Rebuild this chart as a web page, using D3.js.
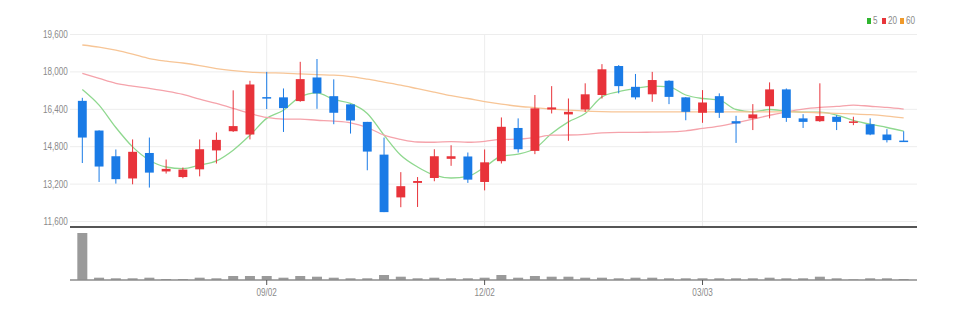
<!DOCTYPE html>
<html>
<head>
<meta charset="utf-8">
<script src="https://cdn.jsdelivr.net/npm/d3@7"></script>
<style>
  body { margin: 0; background: #fff; }
  svg text { font-family: "Liberation Sans", sans-serif; fill: #8a8a8a; }
</style>
</head>
<body>
<svg id="chart" width="961" height="315"></svg>
<script>
// weekly candles
let dates = ["06/17","06/24","07/01","07/08","07/15","07/22","07/29","08/05","08/12","08/19",
  "08/26","09/02","09/09","09/16","09/23","09/30","10/07","10/14","10/21","10/28",
  "11/04","11/11","11/18","11/25","12/02","12/09","12/16","12/23","12/30","01/06",
  "01/13","01/20","01/27","02/03","02/10","02/17","02/24","03/03","03/10","03/17",
  "03/24","03/31","04/07","04/14","04/21","04/28","05/05","05/12","05/19","05/26"];

let open  = [16740,15470,14370,13420,14510,13720,13480,13810,14620,15440,
  15300,16900,16890,16730,17740,16940,16590,15840,14440,12610,
  13230,13440,14260,14360,13270,14160,15580,14600,16370,16160,
  16370,16990,18230,17340,17020,17600,16890,16230,16940,15870,
  15990,16510,17230,15990,15870,16060,15820,15740,15300,15040];
let close = [15170,13930,13390,14560,13670,13830,13800,14670,15070,15660,
  17440,16840,16430,17670,17060,16230,15900,14570,11980,13090,
  13310,14370,14370,13370,14110,15630,14670,16420,16460,16270,
  17020,18090,17370,16890,17630,16910,16270,16670,16230,15770,
  16160,17230,16010,15840,16090,15840,15860,15300,15060,15020];
let high  = [16870,15480,14660,15090,15170,14230,13890,15090,15390,17190,
  17600,17980,17270,18410,18530,17660,16600,15840,15170,13690,
  13480,14670,14840,14530,14660,16030,15990,16990,17370,16840,
  17490,18310,18270,17890,17980,17620,16900,17200,17060,16100,
  16600,17530,17270,16170,17490,16130,16060,15990,15530,15440];
let low   = [14080,13270,13200,13170,13030,13630,13430,13510,14060,15410,
  15090,16390,15410,16700,16400,15740,15340,13770,11980,12190,
  12200,13300,13960,13230,12910,14060,14530,14460,16200,15030,
  16270,16840,17060,16800,16700,16600,15910,15800,16010,14940,
  15490,15990,15840,15580,15840,15490,15700,15270,14960,15000];

let ma5  = [17230,16560,15600,14770,14200,13910,13840,13990,14170,14630,
  15270,15990,16340,16910,17080,16800,16630,16200,15270,14410,
  13910,13560,13440,13510,13910,14370,14460,14700,15340,15840,
  16200,16910,17130,17270,17370,17340,16990,16840,16770,16370,
  16270,16370,16300,16260,16260,16130,15910,15740,15600,15440];
let ma20 = [17920,17700,17490,17370,17270,17160,17020,16810,16630,16420,
  16200,16030,15960,15960,15910,15870,15800,15600,15270,15090,
  14980,14970,15000,14970,15010,15090,15100,15170,15270,15280,
  15310,15370,15390,15390,15400,15410,15460,15560,15660,15800,
  15960,16120,16270,16390,16460,16500,16560,16510,16460,16390];
let ma60 = [19130,19040,18910,18740,18550,18440,18360,18250,18120,18030,
  17970,17940,17930,17890,17860,17840,17780,17670,17540,17410,
  17260,17110,16960,16840,16710,16600,16510,16450,16390,16340,
  16300,16280,16270,16270,16270,16270,16270,16270,16270,16270,
  16270,16270,16270,16260,16230,16200,16180,16150,16090,16010];

let volume = [4700,230,170,170,230,100,100,230,170,400,
  400,400,230,400,330,230,170,170,500,330,
  170,230,170,170,230,500,230,400,330,330,
  230,230,170,230,230,170,170,170,170,170,
  170,230,170,170,330,170,60,170,170,100];

let yTicks = [11600,13200,14800,16400,18000,19600];
let xTicks = ["09/02","12/02","03/03"];

let maSeries = [
  {name:"5",  values: ma5,  line:"#8fd88f", key:"#2fb52f"},
  {name:"20", values: ma20, line:"#f5a3ab", key:"#e8353a"},
  {name:"60", values: ma60, line:"#f7c596", key:"#f09a2a"}
];

let upColor = "#e8333a";
let downColor = "#1a7be6";
let narrow = 0.74; // the labels use a condensed face

let svg = d3.select("#chart");

let x = d3.scaleBand().domain(dates).range([70, 916]).padding(0.47);
let y = d3.scaleLinear().domain([11600, 19600]).range([221, 34]);
let yv = d3.scaleLinear().domain([0, 4700 * 52 / 47]).range([280, 228]);

let cx = function(i) { return x(dates[i]) + x.bandwidth() / 2; };

// grid
svg.append("g")
  .attr("transform", "translate(70,0)")
  .call(d3.axisLeft(y).tickValues(yTicks).tickSize(-847).tickFormat(d3.format(",")))
  .call(g => g.select(".domain").remove())
  .call(g => g.selectAll(".tick line").attr("stroke", "#ededed"))
  .call(g => g.selectAll(".tick text").attr("x", -3).attr("font-size", 11)
    .attr("fill", "#8a8a8a").attr("transform", "scale(" + narrow + ",1)"));

svg.append("g").selectAll("line")
  .data(xTicks).enter().append("line")
  .attr("x1", d => x(d) + x.bandwidth() / 2).attr("x2", d => x(d) + x.bandwidth() / 2)
  .attr("y1", 34).attr("y2", 226)
  .attr("stroke", "#ededed");

// moving averages
let line = d3.line().x((d, i) => cx(i)).y(d => y(d)).curve(d3.curveMonotoneX);
svg.append("g").selectAll("path")
  .data(maSeries).enter().append("path")
  .attr("d", d => line(d.values))
  .attr("fill", "none")
  .attr("stroke", d => d.line)
  .attr("stroke-width", 1.3);

// candles
let candles = svg.append("g").selectAll("g")
  .data(dates).enter().append("g");

candles.append("line")
  .attr("x1", (d, i) => cx(i)).attr("x2", (d, i) => cx(i))
  .attr("y1", (d, i) => y(high[i])).attr("y2", (d, i) => y(low[i]))
  .attr("stroke", (d, i) => close[i] >= open[i] ? upColor : downColor)
  .attr("stroke-width", 1);

candles.append("rect")
  .attr("x", d => x(d))
  .attr("width", x.bandwidth())
  .attr("y", (d, i) => y(Math.max(open[i], close[i])))
  .attr("height", (d, i) => Math.max(1.5, Math.abs(y(open[i]) - y(close[i]))))
  .attr("fill", (d, i) => close[i] >= open[i] ? upColor : downColor);

// price chart bottom
svg.append("line")
  .attr("x1", 70).attr("x2", 917).attr("y1", 227).attr("y2", 227)
  .attr("stroke", "#555").attr("stroke-width", 2);

// volume
svg.append("g").selectAll("rect")
  .data(volume).enter().append("rect")
  .attr("x", (d, i) => cx(i) - 5)
  .attr("width", 10)
  .attr("y", d => yv(d))
  .attr("height", d => 280 - yv(d))
  .attr("fill", "#9a9a9a");

svg.append("g")
  .attr("transform", "translate(0,280)")
  .call(d3.axisBottom(x).tickValues(xTicks).tickSize(5).tickSizeOuter(0))
  .call(g => g.select(".domain").attr("stroke", "#8c8c8c").attr("stroke-width", 1.5).attr("d", "M70,0H917"))
  .call(g => g.selectAll(".tick line").attr("stroke", "#555"))
  .call(g => g.selectAll(".tick text").attr("y", 8).attr("font-size", 11)
    .attr("fill", "#8a8a8a").attr("transform", "scale(" + narrow + ",1)"));

// legend
let legendX = [867, 882, 900];
maSeries.forEach(function(s, i) {
  svg.append("rect").attr("x", legendX[i]).attr("y", 18).attr("width", 4).attr("height", 6).attr("fill", s.key);
  svg.append("text")
    .attr("transform", "translate(" + (legendX[i] + 6) + ",24) scale(" + narrow + ",1)")
    .attr("font-size", 11).text(s.name);
});
</script>
</body>
</html>
